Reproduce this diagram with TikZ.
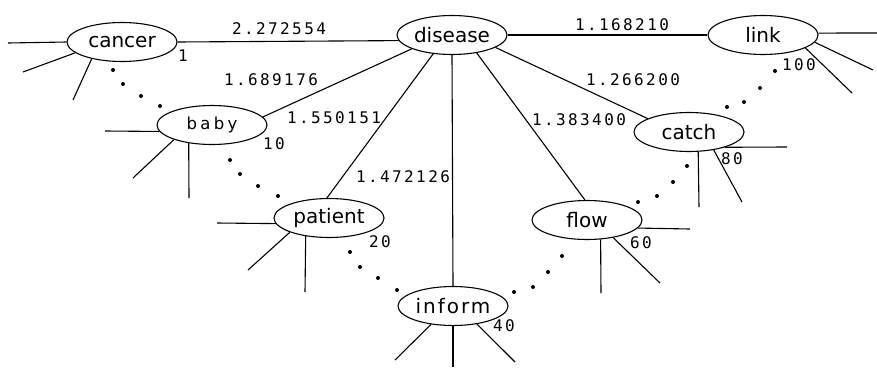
\documentclass[tikz,border=0pt]{standalone}
\usepackage{fontspec}
\usetikzlibrary{shapes.geometric}
\newfontfamily\wordfont{DejaVu Sans}
\newfontfamily\babyfont[LetterSpace=20]{DejaVu Sans}
\newfontfamily\informfont[LetterSpace=10]{DejaVu Sans}
\newfontfamily\numfont[LetterSpace=15]{DejaVu Sans Mono}
\begin{document}
\begin{tikzpicture}[x=1pt,y=-1pt,line width=1.1pt,
  word/.style={ellipse,draw,minimum width=110pt,minimum height=39pt,inner sep=0pt,
    font=\wordfont\fontsize{20}{20}\selectfont},
  wt/.style={inner sep=0pt,font=\numfont\fontsize{16}{16}\selectfont},
  dotmark/.style={fill=black}]
\useasboundingbox (0,0) rectangle (877,367);
% word nodes
\node[word] (cancer)  at (122,42)  {cancer};
\node[word] (disease) at (452,35)  {disease};
\node[word] (link)    at (763,35)  {link};
\node[word] (baby)    at (212,125) {\babyfont\fontsize{16.5}{16.5}\selectfont baby};
\node[word] (catch)   at (689,132) {catch};
\node[word] (patient) at (329,218) {patient};
\node[word] (flow)    at (587,220) {flow};
\node[word] (inform)  at (453,306) {\informfont inform};
% weighted edges
\draw (cancer.0)    -- (disease.186);
\draw (disease.0)   -- (link.180);
\draw (disease.199) -- (baby.9);
\draw (disease.225) -- (patient.96);
\draw (disease.270) -- (inform.90);
\draw (disease.324) -- (flow.96);
\draw (disease.344) -- (catch.162);
% weights
\node[wt] (w1) at (279,29)  {2.272554};
\node[wt] (w2) at (622,25)  {1.168210};
\node[wt] (w3) at (271,80)  {1.689176};
\node[wt] (w4) at (334,118) {1.550151};
\node[wt] (w5) at (403,177) {1.472126};
\node[wt] (w6) at (579,120) {1.383400};
\node[wt] (w7) at (633,80)  {1.266200};
% rank numbers
\node[wt] (r1)   at (183,56)  {1};
\node[wt] (r10)  at (274,144) {10};
\node[wt] (r20)  at (380,242) {20};
\node[wt] (r40)  at (504,326) {40};
\node[wt] (r60)  at (641,243) {60};
\node[wt] (r80)  at (732,159) {80};
\node[wt] (r100) at (799,65)  {100};
% stub ends
\coordinate (ca1) at (8,43);    \coordinate (ca2) at (23,72);   \coordinate (ca3) at (73,100);
\coordinate (ba1) at (105,131); \coordinate (ba2) at (133,178); \coordinate (ba3) at (189,198);
\coordinate (pa1) at (217,223); \coordinate (pa2) at (248,270); \coordinate (pa3) at (305,292);
\coordinate (in1) at (395,360); \coordinate (in2) at (453,367); \coordinate (in3) at (515,362);
\coordinate (fl1) at (690,229); \coordinate (fl2) at (601,293); \coordinate (fl3) at (660,283);
\coordinate (ct1) at (787,147); \coordinate (ct2) at (699,207); \coordinate (ct3) at (742,202);
\coordinate (lk1) at (877,33);  \coordinate (lk2) at (873,70);  \coordinate (lk3) at (852,93);
% stubs
\draw (cancer.180) -- (ca1); \draw (cancer.193) -- (ca2); \draw (cancer.209) -- (ca3);
\draw (baby.187) -- (ba1);   \draw (baby.201) -- (ba2);   \draw (baby.218) -- (ba3);
\draw (patient.186) -- (pa1);\draw (patient.200) -- (pa2);\draw (patient.218) -- (pa3);
\draw (inform.220) -- (in1); \draw (inform.270) -- (in2); \draw (inform.323) -- (in3);
\draw (flow.351) -- (fl1);   \draw (flow.305) -- (fl2);   \draw (flow.326) -- (fl3);
\draw (catch.337) -- (ct1);  \draw (catch.295) -- (ct2);  \draw (catch.324) -- (ct3);
\draw (link.2) -- (lk1);     \draw (link.352) -- (lk2);   \draw (link.343) -- (lk3);
% dotted chains
\foreach \p in {(113,70),(123,84),(141,96),(160,106),
                (230,160),(240,174),(258,186),(278,196),
                (350,252),(360,267),(378,278),(397,290),
                (514,292),(533,287),(548,272),(562,256),
                (638,202),(657,196),(673,182),(687,166),
                (727,107),(744,102),(760,88),(775,71)}
  \fill[dotmark] \p circle (2pt);
\end{tikzpicture}
\end{document}
